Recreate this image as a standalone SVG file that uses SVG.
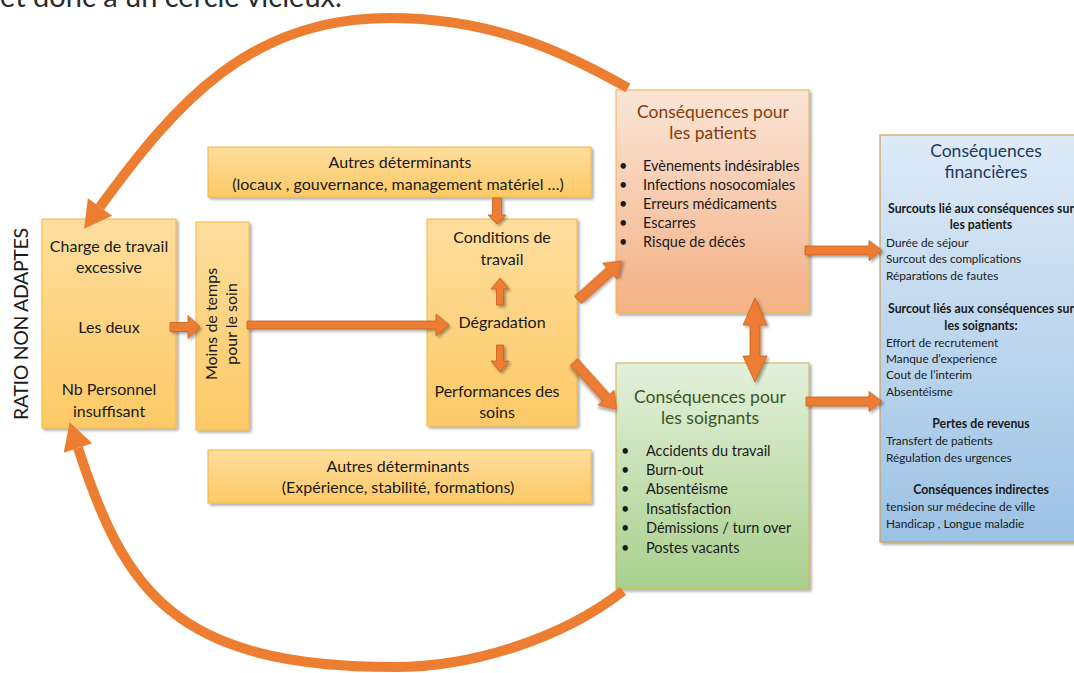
<svg xmlns="http://www.w3.org/2000/svg" width="1074" height="673" viewBox="0 0 1074 673">
<defs>
<linearGradient id="gY" x1="0" y1="0" x2="0" y2="1"><stop offset="0" stop-color="#FFDE9E"/><stop offset="1" stop-color="#FCC965"/></linearGradient>
<linearGradient id="gP" x1="0" y1="0" x2="0" y2="1"><stop offset="0" stop-color="#FBE5D7"/><stop offset="1" stop-color="#F4B084"/></linearGradient>
<linearGradient id="gG" x1="0" y1="0" x2="0" y2="1"><stop offset="0" stop-color="#E3F0DB"/><stop offset="1" stop-color="#A8D08C"/></linearGradient>
<linearGradient id="gB" x1="0" y1="0" x2="0" y2="1"><stop offset="0" stop-color="#DEEBF7"/><stop offset="1" stop-color="#9CC2E5"/></linearGradient>
<filter id="sh" x="-10%" y="-10%" width="125%" height="125%"><feDropShadow dx="2" dy="2" stdDeviation="1.5" flood-color="#000" flood-opacity="0.35"/></filter>
<marker id="ah" markerUnits="userSpaceOnUse" markerWidth="30" markerHeight="34" refX="0" refY="15" orient="auto" overflow="visible"><path d="M0,0 L27,15 L0,30 z" fill="#ED7D31"/></marker>
</defs>
<style>
text{font-family:Lato,"Liberation Sans",sans-serif;fill:#1a1a1a}
.m{font-size:16px}
.c{text-anchor:middle}
.box{filter:url(#sh)}
.y{fill:url(#gY);stroke:#F2B843;stroke-width:1}
.p{fill:url(#gP);stroke:#E9B54E;stroke-width:1}
.g{fill:url(#gG);stroke:#D2B24C;stroke-width:1}
.b{fill:url(#gB);stroke:#C9A25E;stroke-width:1.2}
.l{font-size:14.5px}
.s{font-size:11.8px}
.sb{font-size:12.3px;font-weight:bold}
.arc{fill:none;stroke:#ED7D31;stroke-width:10}
.ba{fill:#ED7D31;stroke:#C8611E;stroke-width:0.8;filter:url(#sh)}
.tp{font-size:17.5px;fill:#843C0C}
.tg{font-size:17.5px;fill:#385723}
.tb{font-size:17.5px;fill:#1F3864}
</style>
<rect width="1074" height="673" fill="#ffffff"/>
<text x="0" y="7" style="font-size:29px;fill:#2b2b2b">et donc à un cercle vicieux.</text>

<g id="ratio-label"><text class="c" transform="translate(28,324) rotate(-90)" style="font-size:19.5px" textLength="192">RATIO NON ADAPTES</text></g>

<g id="charge"><rect class="box y" x="42" y="219" width="134" height="209"/>
<text class="m c" x="109" y="252">Charge de travail</text>
<text class="m c" x="109" y="273">excessive</text>
<text class="m c" x="109" y="333">Les deux</text>
<text class="m c" x="109" y="395">Nb Personnel</text>
<text class="m c" x="109" y="417">insuffisant</text></g>

<g id="moins"><rect class="box y" x="196" y="222" width="53" height="208"/>
<text class="m c" transform="translate(217,324) rotate(-90)">Moins de temps</text>
<text class="m c" transform="translate(237,324) rotate(-90)">pour le soin</text></g>

<g id="autres-haut"><rect class="box y" x="208" y="147" width="383" height="50"/>
<text class="m c" x="400" y="168">Autres déterminants</text>
<text class="m c" x="398" y="190">(locaux , gouvernance, management matériel …)</text></g>

<g id="centre"><rect class="box y" x="427" y="219" width="150" height="207"/>
<text class="m c" x="502" y="243">Conditions de</text>
<text class="m c" x="502" y="265">travail</text>
<text class="m c" x="502" y="328">Dégradation</text>
<text class="m c" x="497" y="397">Performances des</text>
<text class="m c" x="497" y="418">soins</text></g>

<g id="autres-bas"><rect class="box y" x="208" y="450" width="383" height="53"/>
<text class="m c" x="398" y="472">Autres déterminants</text>
<text class="m c" x="398" y="493">(Expérience, stabilité, formations)</text></g>

<g id="patients"><rect class="box p" x="616" y="90" width="193" height="223"/>
<text class="tp c" x="713" y="118">Conséquences pour</text>
<text class="tp c" x="713" y="139">les patients</text>
<g class="l"><text x="619" y="171">•</text><text x="643" y="171">Evènements indésirables</text>
<text x="619" y="190">•</text><text x="643" y="190">Infections nosocomiales</text>
<text x="619" y="209">•</text><text x="643" y="209">Erreurs médicaments</text>
<text x="619" y="228">•</text><text x="643" y="228">Escarres</text>
<text x="619" y="247">•</text><text x="643" y="247">Risque de décès</text></g></g>

<g id="soignants"><rect class="box g" x="616" y="363" width="193" height="226"/>
<text class="tg c" x="710" y="403">Conséquences pour</text>
<text class="tg c" x="710" y="424">les soignants</text>
<g class="l"><text x="621" y="456">•</text><text x="646" y="456">Accidents du travail</text>
<text x="621" y="475">•</text><text x="646" y="475">Burn-out</text>
<text x="621" y="494">•</text><text x="646" y="494">Absentéisme</text>
<text x="621" y="514">•</text><text x="646" y="514">Insatisfaction</text>
<text x="621" y="533">•</text><text x="646" y="533">Démissions / turn over</text>
<text x="621" y="553">•</text><text x="646" y="553">Postes vacants</text></g></g>

<g id="financieres"><rect class="box b" x="880" y="135" width="202" height="407"/>
<text class="tb c" x="986" y="157">Conséquences</text>
<text class="tb c" x="986" y="178">financières</text>
<text class="sb c" x="981" y="213">Surcouts lié aux conséquences sur</text>
<text class="sb c" x="981" y="229">les patients</text>
<text class="s" x="886" y="247">Durée de séjour</text>
<text class="s" x="886" y="263">Surcout des complications</text>
<text class="s" x="886" y="280">Réparations de fautes</text>
<text class="sb c" x="981" y="313">Surcout liés aux conséquences sur</text>
<text class="sb c" x="981" y="330">les soignants:</text>
<text class="s" x="886" y="347">Effort de recrutement</text>
<text class="s" x="886" y="363">Manque d’experience</text>
<text class="s" x="886" y="379">Cout de l’interim</text>
<text class="s" x="886" y="396">Absentéisme</text>
<text class="sb c" x="981" y="428">Pertes de revenus</text>
<text class="s" x="886" y="445">Transfert de patients</text>
<text class="s" x="886" y="462">Régulation des urgences</text>
<text class="sb c" x="981" y="494">Conséquences indirectes</text>
<text class="s" x="886" y="511">tension sur médecine de ville</text>
<text class="s" x="886" y="528">Handicap , Longue maladie</text></g>

<g id="connectors">
<path class="arc" marker-end="url(#ah)" d="M628,88 C576,58.6 500,18 390,18 C250,18 176.7,101.7 100,207"/>
<path class="arc" marker-end="url(#ah)" d="M623,591 C560,640 470,667 395,667 C174,667 124.5,590.5 78,448"/>
<polygon class="ba" points="170,322.5 188,322.5 188,315.5 200,327 188,338.5 188,331.5 170,331.5"/>
<polygon class="ba" points="247,321 436,321 436,314 449,325 436,336 436,329 247,329"/>
<polygon class="ba" points="492.5,198 501.5,198 501.5,215 506,215 497,224 488,215 492.5,215"/>
<polygon class="ba" points="496.5,305 503.5,305 503.5,289 509,289 500,278 491,289 496.5,289"/>
<polygon class="ba" points="496.5,345 503.5,345 503.5,361 509,361 500,372 491,361 496.5,361"/>
<polygon class="ba" transform="translate(578,300) rotate(-42)" points="0,-5 43,-5 43,-11 58,0 43,11 43,5 0,5"/>
<polygon class="ba" transform="translate(574,362) rotate(48)" points="0,-5 48,-5 48,-11 64,0 48,11 48,5 0,5"/>
<polygon class="ba" points="805,246 869,246 869,240.5 882,250.5 869,260.5 869,255 805,255"/>
<polygon class="ba" points="806,397 869,397 869,391.5 882,401.5 869,411.5 869,406 806,406"/>
<polygon class="ba" points="755,298 767,325 760,325 760,356 767,356 755,382 743,356 750,356 750,325 743,325"/>
</g>
</svg>
